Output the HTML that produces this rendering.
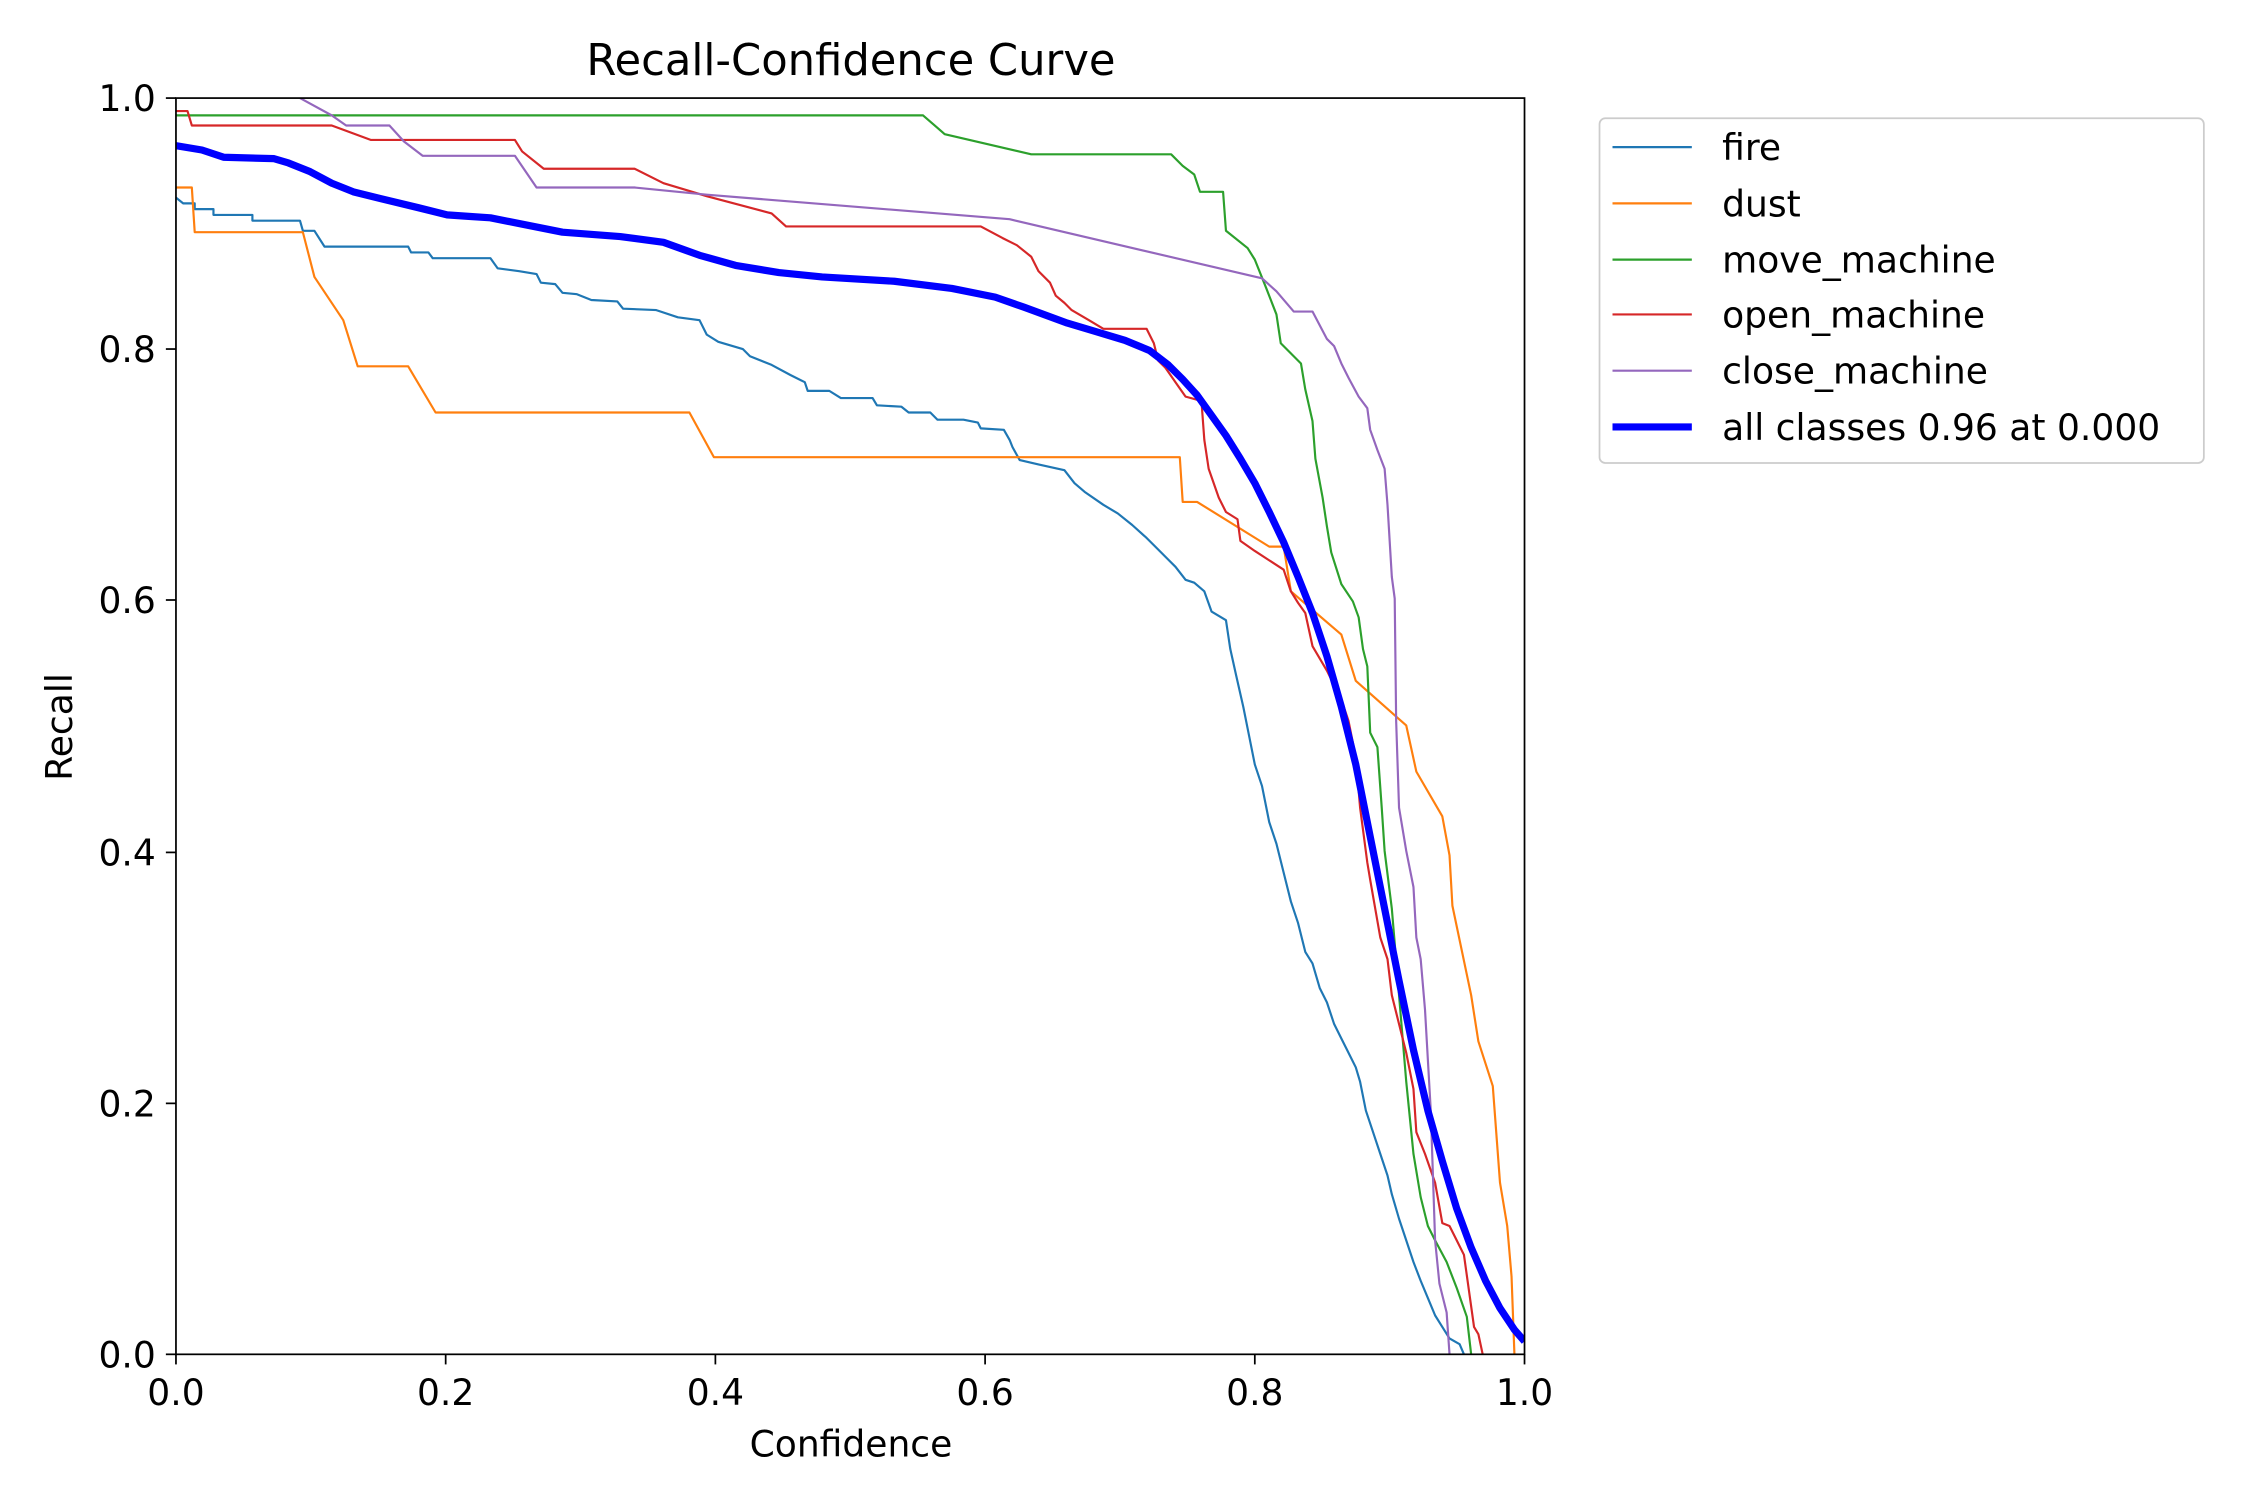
<!DOCTYPE html>
<html><head><meta charset="utf-8"><style>html,body{margin:0;padding:0;background:#fff}svg{display:block}text{font-family:"DejaVu Sans","Liberation Sans",sans-serif;fill:#000}</style></head><body>
<svg width="2250" height="1500" viewBox="0 0 1560 1040" xmlns="http://www.w3.org/2000/svg">
<rect width="1560" height="1040" fill="#fff"/>
<defs><clipPath id="c"><rect x="122" y="68" width="935" height="871"/></clipPath></defs>
<g clip-path="url(#c)" fill="none" stroke-linejoin="round" stroke-width="1.5">
<polyline stroke="#1f77b4" points="122,137 127,141 135,141 135,145 148,145 148,149 175,149 175,153 208,153 210,160 218,160 225,171 283,171 285,175 297,175 300,179 340,179 345,186 360,188 372,190 375,196 385,197 390,203 400,204 410,208 428,209 432,214 455,215 470,220 485,222 490,232 498,237 515,242 520,247 535,253 548,260 558,265 560,271 575,271 583,276 605,276 608,281 625,282 630,286 645,286 650,291 668,291 678,293 680,297 696,298 700,305 702,310 707,319 720,322 738,326 745,335 752,341 765,350 775,356 785,364 795,373 803,381 810,388 815,393 822,402 828,404 835,410 840,424 850,430 853,450 857,468 862,490 866,510 870,530 875,545 880,570 885,585 890,605 895,625 900,640 905,660 910,668 915,685 920,695 925,710 930,720 935,730 940,740 943,750 947,770 952,785 957,800 962,815 965,828 970,845 975,860 980,875 985,888 990,900 995,912 1000,920 1005,928 1012,932 1015,939"/>
<polyline stroke="#ff7f0e" points="122,130 133,130 135,161 210,161 218,192 238,222 248,254 283,254 302,286 478,286 495,317 818,317 820,348 830,348 880,379 890,379 895,410 930,440 940,472 975,503 982,535 1000,566 1005,593 1007,628 1020,690 1025,722 1035,753 1040,820 1045,850 1048,885 1050,939"/>
<polyline stroke="#2ca02c" points="122,80 640,80 655,93 715,107 812,107 820,115 828,121 832,133 848,133 850,160 865,172 870,180 878,200 885,218 888,238 902,252 905,270 910,292 912,318 917,345 920,365 923,383 930,405 938,417 942,428 945,450 948,462 950,508 955,518 958,560 960,590 965,630 970,690 975,750 980,800 985,830 990,850 995,860 1003,875 1010,893 1017,913 1020,939"/>
<polyline stroke="#d62728" points="122,77 130,77 133,87 230,87 257,97 357,97 362,105 377,117 440,117 460,127 490,136 535,148 545,157 680,157 695,165 705,170 715,178 720,188 728,196 732,205 738,210 743,215 755,222 765,228 795,228 800,238 803,250 808,255 815,265 822,275 833,278 835,305 838,325 845,345 850,355 858,360 860,375 870,382 890,395 895,410 900,418 905,425 910,448 920,465 930,485 935,500 940,525 943,560 948,598 950,610 957,650 962,665 965,690 970,710 975,730 980,755 982,785 988,800 995,820 1000,848 1005,850 1010,860 1015,870 1022,920 1025,925 1028,939"/>
<polyline stroke="#9467bd" points="208,68 230,80 240,87 270,87 280,98 293,108 357,108 372,130 440,130 490,135 700,152 875,193 885,202 897,216 910,216 920,235 925,240 930,252 935,262 942,275 948,283 950,298 955,312 960,325 962,350 965,400 967,415 968,500 970,560 975,590 980,615 982,650 985,665 988,700 992,770 995,860 998,890 1003,910 1005,939"/>
<polyline stroke="#0000ff" stroke-width="5" points="122,101 140,104 155,109 190,110 200,113 215,119 230,127 245,133 265,138 290,144 310,149 325,150 340,151 360,155 390,161 430,164 460,168 485,177 510,184 540,189 570,192 620,195 660,200 690,206 710,213 740,224 760,230 780,236 797,243 810,253 820,263 830,274 840,288 850,302 860,318 870,335 880,355 890,376 900,400 910,425 920,455 930,490 940,530 950,580 960,630 970,680 980,728 990,770 1000,805 1010,838 1020,865 1030,888 1040,907 1050,922 1057,930"/>
</g>
<rect x="122" y="68" width="935" height="871" fill="none" stroke="#000" stroke-width="1.2"/>
<g stroke="#000" stroke-width="1.2">
<line x1="122" y1="939" x2="122" y2="946"/><line x1="309" y1="939" x2="309" y2="946"/><line x1="496" y1="939" x2="496" y2="946"/><line x1="683" y1="939" x2="683" y2="946"/><line x1="870" y1="939" x2="870" y2="946"/><line x1="1057" y1="939" x2="1057" y2="946"/>
<line x1="115" y1="939" x2="122" y2="939"/><line x1="115" y1="765" x2="122" y2="765"/><line x1="115" y1="591" x2="122" y2="591"/><line x1="115" y1="416" x2="122" y2="416"/><line x1="115" y1="242" x2="122" y2="242"/><line x1="115" y1="68" x2="122" y2="68"/>
</g>
<g font-size="25" text-anchor="middle">
<text x="122" y="974">0.0</text><text x="309" y="974">0.2</text><text x="496" y="974">0.4</text><text x="683" y="974">0.6</text><text x="870" y="974">0.8</text><text x="1057" y="974">1.0</text>
</g>
<g font-size="25" text-anchor="end">
<text x="108" y="948">0.0</text><text x="108" y="774">0.2</text><text x="108" y="600">0.4</text><text x="108" y="425">0.6</text><text x="108" y="251">0.8</text><text x="108" y="77">1.0</text>
</g>
<text x="590" y="1010" font-size="25" text-anchor="middle">Confidence</text>
<text transform="translate(50,504) rotate(-90)" font-size="25" text-anchor="middle">Recall</text>
<text x="590" y="52" font-size="30" text-anchor="middle">Recall-Confidence Curve</text>
<rect x="1109" y="82" width="419" height="239" rx="4" fill="#fff" stroke="#ccc" stroke-width="1.2"/>
<g stroke-width="1.5">
<line x1="1118" y1="102" x2="1173" y2="102" stroke="#1f77b4"/>
<line x1="1118" y1="141" x2="1173" y2="141" stroke="#ff7f0e"/>
<line x1="1118" y1="180" x2="1173" y2="180" stroke="#2ca02c"/>
<line x1="1118" y1="218" x2="1173" y2="218" stroke="#d62728"/>
<line x1="1118" y1="257" x2="1173" y2="257" stroke="#9467bd"/>
<line x1="1118" y1="296" x2="1173" y2="296" stroke="#0000ff" stroke-width="5"/>
</g>
<g font-size="25">
<text x="1194" y="111">fire</text><text x="1194" y="150">dust</text><text x="1194" y="189">move_machine</text><text x="1194" y="227">open_machine</text><text x="1194" y="266">close_machine</text><text x="1194" y="305">all classes 0.96 at 0.000</text>
</g>
</svg>
</body></html>
